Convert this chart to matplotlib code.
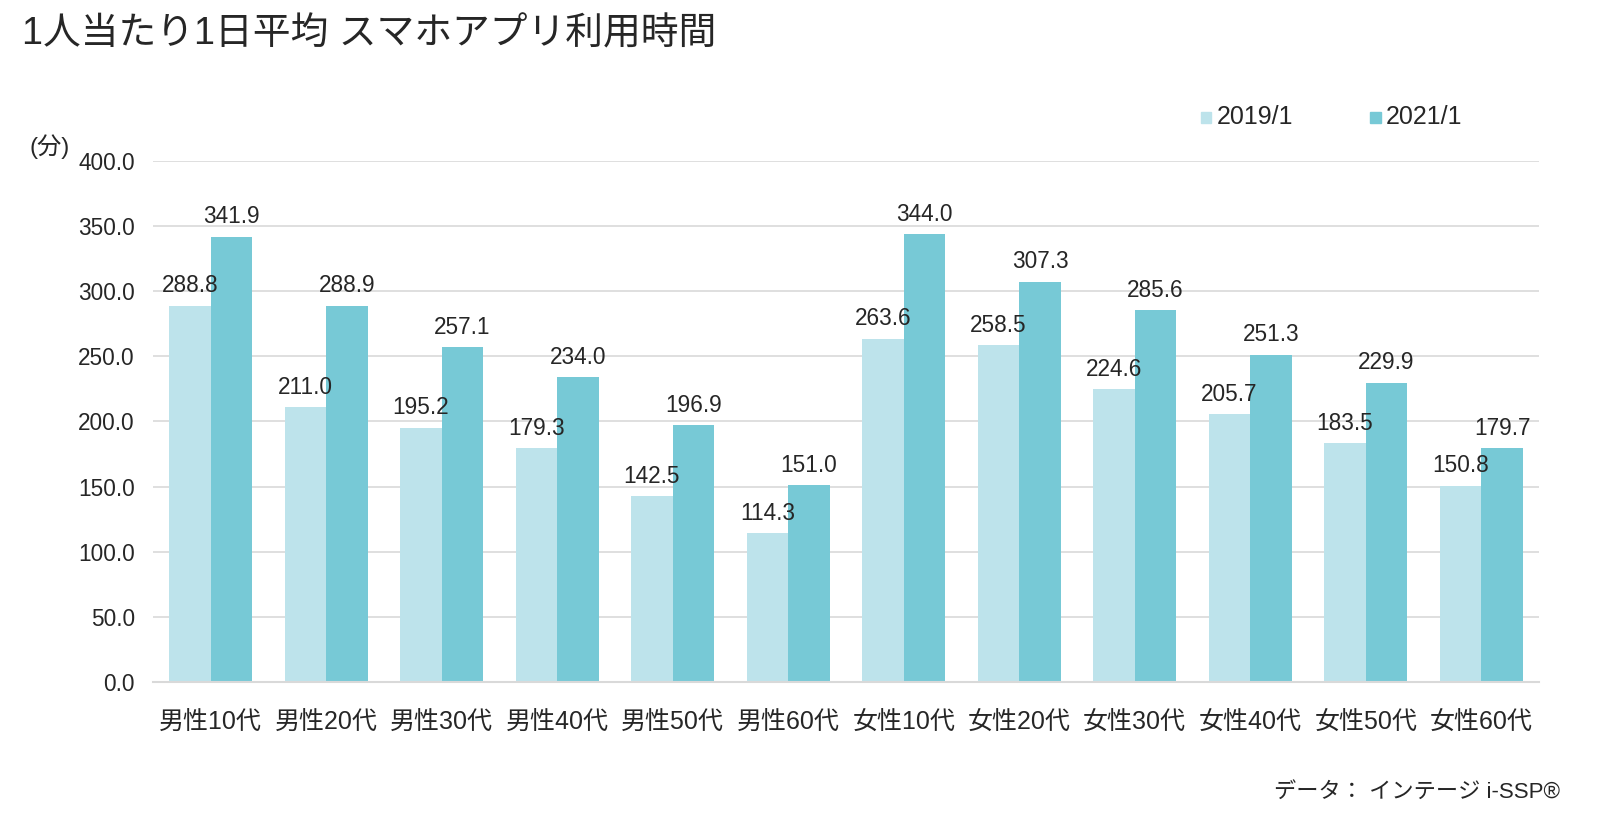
import matplotlib
matplotlib.use("Agg")
import matplotlib.pyplot as plt
from matplotlib.patches import Rectangle
import numpy as np

plt.rcParams['font.family'] = ['Liberation Sans', 'Noto Sans CJK JP', 'DejaVu Sans']

categories = ['男性10代', '男性20代', '男性30代', '男性40代', '男性50代', '男性60代',
              '女性10代', '女性20代', '女性30代', '女性40代', '女性50代', '女性60代']
series_names = ['2019/1', '2021/1']
values_2019 = [288.8, 211.0, 195.2, 179.3, 142.5, 114.3, 263.6, 258.5, 224.6, 205.7, 183.5, 150.8]
values_2021 = [341.9, 288.9, 257.1, 234.0, 196.9, 151.0, 344.0, 307.3, 285.6, 251.3, 229.9, 179.7]
yticks = [0, 50, 100, 150, 200, 250, 300, 350, 400]

light = '#bde3eb'
dark = '#77c9d6'
txt = '#262626'
grid_c = '#d9d9d9'

fig = plt.figure(figsize=(16.12, 8.21), dpi=100)
ax = fig.add_axes([0.0949, 0.1693, 0.8598, 0.6347])

x = np.arange(len(categories))
w = 0.36
b1 = ax.bar(x - w / 2, values_2019, w, color=light, zorder=2)
b2 = ax.bar(x + w / 2, values_2021, w, color=dark, zorder=2)

for bars, vals in ((b1, values_2019), (b2, values_2021)):
    for r, v in zip(bars, vals):
        ax.annotate(f'{v:.1f}', (r.get_x() + r.get_width() / 2, v),
                    xytext=(0, 6), textcoords='offset points',
                    ha='center', va='bottom', fontsize=16.3, color=txt, zorder=3)

ax.set_xlim(-0.5, len(categories) - 0.5)
ax.set_ylim(0, 400)
ax.set_yticks(yticks)
ax.set_yticklabels([f'{t:.1f}' for t in yticks])
ax.set_xticks(x)
ax.set_xticklabels(categories)
ax.tick_params(axis='y', length=0, pad=13, labelsize=16.3, labelcolor=txt)
ax.tick_params(axis='x', length=0, pad=21, labelsize=18, labelcolor=txt)
ax.grid(axis='y', color=grid_c, linewidth=1.2, zorder=0)
for s in ['top', 'right', 'left']:
    ax.spines[s].set_visible(False)
ax.spines['bottom'].set_color(grid_c)
ax.spines['bottom'].set_linewidth(1.5)

# legend drawn by hand to sit where the original does
leg_y = 0.857
sq_w, sq_h = 10.5 / 1612, 10.5 / 821
for xpos, col, name in ((0.745, light, series_names[0]), (0.850, dark, series_names[1])):
    fig.add_artist(Rectangle((xpos, leg_y - sq_h / 2), sq_w, sq_h,
                             transform=fig.transFigure, color=col))
    fig.text(xpos + 0.0095, leg_y, name, fontsize=18, color=txt, va='center', ha='left')

fig.text(0.0137, 0.958, '1人当たり1日平均 スマホアプリ利用時間', fontsize=27.2,
         color=txt, va='center', ha='left')
fig.text(0.018, 0.822, '(分)', fontsize=17.5, color=txt, va='center', ha='left')
fig.text(0.968, 0.035, 'データ： インテージ i-SSP®', fontsize=16, color=txt,
         va='center', ha='right')

fig.savefig('out.png', dpi=100)
